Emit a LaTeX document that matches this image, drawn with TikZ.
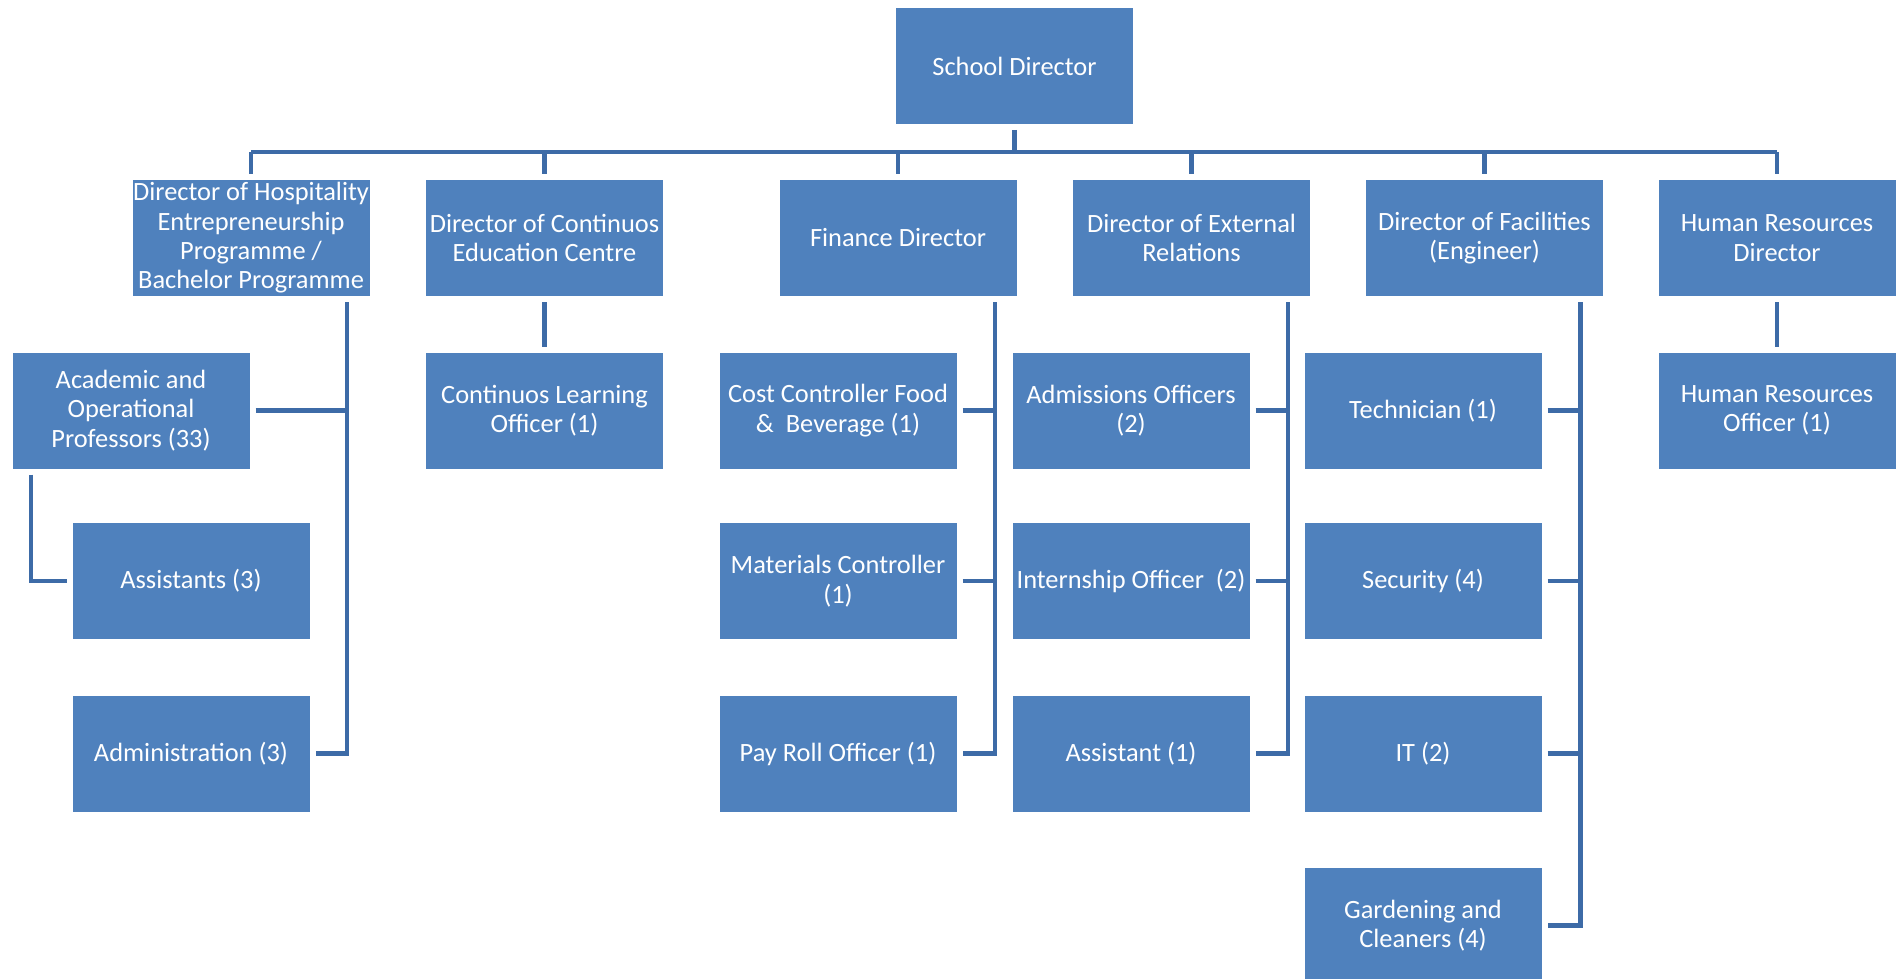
\documentclass[tikz,border=0pt]{standalone}
\usepackage{fontspec}
\setmainfont{Carlito}
\definecolor{boxblue}{HTML}{4F81BD}
\definecolor{lineblue}{HTML}{3D6BA7}
\begin{document}
\begin{tikzpicture}[x=0.5pt,y=-0.5pt,
  orgbox/.style={rectangle, fill=boxblue, text=white, minimum width=118.5pt,
    minimum height=58pt, inner sep=0pt, outer sep=3pt, align=center,
    font=\fontsize{13.2pt}{14.7pt}\selectfont},
  link/.style={draw=lineblue, line width=2.2pt}]
\useasboundingbox (0,0) rectangle (1897,979);
\clip (0,0) rectangle (1897,979);
% top
\node[orgbox] (sd) at (1014.5,66) {School Director};
% row 1
\node[orgbox] (hosp) at (251,238) {Director of Hospitality\\Entrepreneurship\\Programme /\\Bachelor Programme};
\node[orgbox] (cont) at (544.5,238) {Director of Continuos\\Education Centre};
\node[orgbox] (fin) at (898,238) {Finance Director};
\node[orgbox] (ext) at (1191.5,238) {Director of External\\Relations};
\node[orgbox] (fac) at (1484.5,238) {Director of Facilities\\(Engineer)};
\node[orgbox] (hr) at (1777,238) {Human Resources\\Director};
% row 2
\node[orgbox] (acad) at (131,410.5) {Academic and\\Operational\\Professors (33)};
\node[orgbox] (cl) at (544.5,410.5) {Continuos Learning\\Officer (1)};
\node[orgbox] (cc) at (838,410.5) {Cost Controller Food\\\&\ \ Beverage (1)};
\node[orgbox] (adm) at (1131,410.5) {Admissions Officers\\(2)};
\node[orgbox] (tech) at (1423,410.5) {Technician (1)};
\node[orgbox] (hro) at (1777,410.5) {Human Resources\\Officer (1)};
% row 3
\node[orgbox] (asst) at (191,581) {Assistants (3)};
\node[orgbox] (mat) at (838,581) {Materials Controller\\(1)};
\node[orgbox] (intern) at (1131,581) {Internship Officer\ \ (2)};
\node[orgbox] (sec) at (1423,581) {Security (4)};
% row 4
\node[orgbox] (admin) at (191,753.5) {Administration (3)};
\node[orgbox] (pay) at (838,753.5) {Pay Roll Officer (1)};
\node[orgbox] (asst1) at (1131,753.5) {Assistant (1)};
\node[orgbox] (it) at (1423,753.5) {IT (2)};
% row 5
\node[orgbox] (gard) at (1423,925.5) {Gardening and\\Cleaners (4)};

% bus
\coordinate (bus) at (1014.5,152);
\draw[link] (sd.south) -- (bus);
\draw[link] (hosp.north |- bus) -- (hr.north |- bus);
\foreach \n in {hosp,cont,fin,ext,fac,hr}
  \draw[link] (\n.north) -- (\n.north |- bus);

% single children
\draw[link] (cont.south) -- (cl.north);
\draw[link] (hr.south) -- (hro.north);

% hospitality branch
\path (hosp.south) ++(96,0) coordinate (hv);
\draw[link] (hv) |- (admin.east);
\draw[link] (acad.east) -- (acad.east -| hv);
\path (acad.south) ++(-100,0) coordinate (av);
\draw[link] (av) |- (asst.west);

% finance branch
\path (fin.south) ++(97,0) coordinate (fv);
\draw[link] (fv) |- (pay.east);
\draw[link] (cc.east) -- (cc.east -| fv);
\draw[link] (mat.east) -- (mat.east -| fv);

% external relations branch
\path (ext.south) ++(96.5,0) coordinate (ev);
\draw[link] (ev) |- (asst1.east);
\draw[link] (adm.east) -- (adm.east -| ev);
\draw[link] (intern.east) -- (intern.east -| ev);

% facilities branch
\path (fac.south) ++(96,0) coordinate (cv);
\draw[link] (cv) |- (gard.east);
\draw[link] (tech.east) -- (tech.east -| cv);
\draw[link] (sec.east) -- (sec.east -| cv);
\draw[link] (it.east) -- (it.east -| cv);
\end{tikzpicture}
\end{document}
